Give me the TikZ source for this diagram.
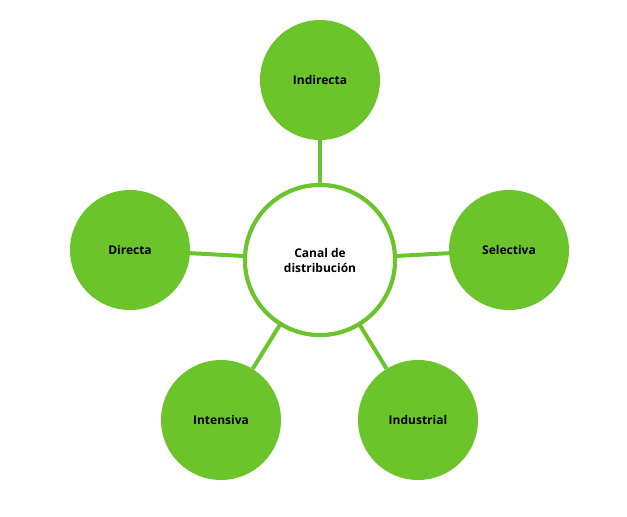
\documentclass[tikz,border=0pt]{standalone}
\usepackage{fontspec}
\setmainfont{Open Sans}
\definecolor{gr}{HTML}{6BC42A}
\begin{document}
\begin{tikzpicture}[x=1pt,y=-1pt,
  leaf/.style={circle,fill=gr,minimum size=120pt,inner sep=0pt,font=\bfseries\fontsize{12}{14}\selectfont},
  hub/.style={circle,draw=gr,line width=4pt,fill=white,minimum size=150pt,inner sep=0pt,align=center,font=\bfseries\fontsize{12}{15}\selectfont},
  link/.style={draw=gr,line width=4pt}]
\useasboundingbox (0,0) rectangle (627,517);
\node[leaf] (ind) at (320,80) {Indirecta};
\node[leaf] (dir) at (130,250) {Directa};
\node[leaf] (sel) at (509,250) {Selectiva};
\node[leaf] (int) at (221,420) {Intensiva};
\node[leaf] (ius) at (418,420) {Industrial};
\node[hub] (c) at (320,260) {Canal de\\distribución};
\foreach \n in {ind,dir,sel,int,ius} \draw[link] (c) -- (\n);
\node[hub] at (c) {Canal de\\distribución};
\end{tikzpicture}
\end{document}
